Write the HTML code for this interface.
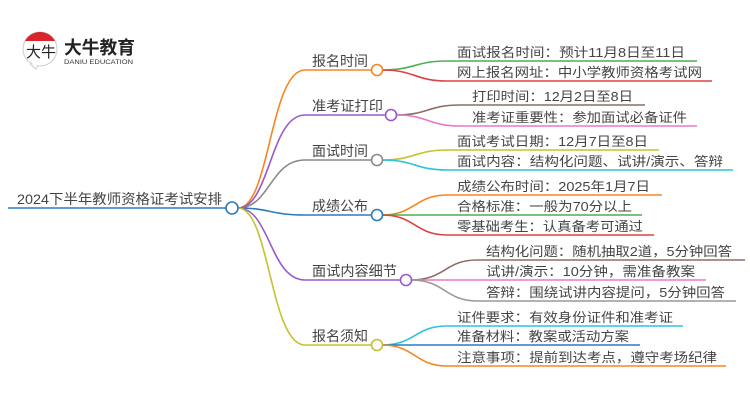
<!DOCTYPE html>
<html><head><meta charset="utf-8"><style>
html,body{margin:0;padding:0;background:#fff;}
svg{display:block;}
text{font-family:"Liberation Sans","Noto Sans CJK SC",sans-serif;fill:#444;}
</style></head><body>
<svg width="750" height="410" viewBox="0 0 750 410" xmlns="http://www.w3.org/2000/svg">
<!-- logo -->
<circle cx="40" cy="49" r="17" fill="#fff" stroke="#ccc" stroke-width="1"/>
<path d="M25 41 A17 17 0 0 1 55 41 Z" fill="#d9262c"/>
<path d="M30 64 L36 69 L38 65" fill="#fff" stroke="#ccc" stroke-width="1"/>
<text x="26" y="57" font-size="15" style="fill:#222">大牛</text>
<text x="64" y="54" font-size="18" font-weight="bold" style="fill:#222" textLength="71" lengthAdjust="spacingAndGlyphs">大牛教育</text>
<text x="64" y="64" font-size="6.5" style="fill:#333" textLength="69" lengthAdjust="spacingAndGlyphs">DANIU EDUCATION</text>

<g fill="none" stroke-width="1.6">
<path d="M8 208 H226" stroke="#2b7bbd"/>
<path d="M238 208 C270 208,270 70,305 70 H372" stroke="#f7851e"/>
<path d="M238 208 C270 208,270 115,305 115 H386" stroke="#9b59c9"/>
<path d="M238 208 C270 208,270 160,305 160 H372" stroke="#888"/>
<path d="M238 208 C270 208,270 215,305 215 H372" stroke="#2b7bbd"/>
<path d="M238 208 C270 208,270 280,305 280 H401" stroke="#9b59c9"/>
<path d="M238 208 C270 208,270 345,305 345 H372" stroke="#c8c030"/>
<path d="M382 70 C415 70,415 61,447 61 H697" stroke="#4caf50"/>
<path d="M382 70 C415 70,415 81,447 81 H712" stroke="#e04040"/>
<path d="M396 115 C428 115,428 105,460 105 H645" stroke="#8d6e63"/>
<path d="M396 115 C428 115,428 126,460 126 H697" stroke="#e879c9"/>
<path d="M382 160 C415 160,415 150,447 150 H659" stroke="#c8c030"/>
<path d="M382 160 C415 160,415 170,447 170 H733" stroke="#2bc4d8"/>
<path d="M382 215 C415 215,415 195,447 195 H662" stroke="#f7851e"/>
<path d="M382 215 H642" stroke="#4caf50"/>
<path d="M382 215 C415 215,415 235,447 235 H654" stroke="#e04040"/>
<path d="M411 280 C445 280,445 260,477 260 H745" stroke="#8d6e63"/>
<path d="M411 280 H706" stroke="#e879c9"/>
<path d="M411 280 C445 280,445 301,477 301 H736" stroke="#999"/>
<path d="M382 345 C415 345,415 326,447 326 H683" stroke="#2bc4d8"/>
<path d="M382 345 H640" stroke="#2b7bbd"/>
<path d="M382 345 C415 345,415 366,447 366 H726" stroke="#f7851e"/>
</g>
<g fill="#fff" stroke-width="1.6">
<circle cx="232" cy="208" r="6" stroke="#2b7bbd"/>
<circle cx="377" cy="70" r="5.5" stroke="#f7851e"/>
<circle cx="391" cy="115" r="5.5" stroke="#9b59c9"/>
<circle cx="377" cy="160" r="5.5" stroke="#888"/>
<circle cx="377" cy="215" r="5.5" stroke="#2b7bbd"/>
<circle cx="406" cy="280" r="5.5" stroke="#9b59c9"/>
<circle cx="377" cy="345" r="5.5" stroke="#c8c030"/>
</g>
<g lengthAdjust="spacingAndGlyphs">
<text x="17" y="204" font-size="14" textLength="205" lengthAdjust="spacingAndGlyphs">2024下半年教师资格证考试安排</text>
<text x="312" y="66" font-size="14" textLength="56" lengthAdjust="spacingAndGlyphs">报名时间</text>
<text x="312" y="111" font-size="14" textLength="71" lengthAdjust="spacingAndGlyphs">准考证打印</text>
<text x="312" y="156" font-size="14" textLength="56" lengthAdjust="spacingAndGlyphs">面试时间</text>
<text x="312" y="211" font-size="14" textLength="56" lengthAdjust="spacingAndGlyphs">成绩公布</text>
<text x="312" y="276" font-size="14" textLength="85" lengthAdjust="spacingAndGlyphs">面试内容细节</text>
<text x="312" y="341" font-size="14" textLength="56" lengthAdjust="spacingAndGlyphs">报名须知</text>
</g>
<g font-size="13">
<text x="457" y="57" textLength="228" lengthAdjust="spacingAndGlyphs">面试报名时间：预计11月8日至11日</text>
<text x="457" y="77" textLength="245" lengthAdjust="spacingAndGlyphs">网上报名网址：中小学教师资格考试网</text>
<text x="472" y="101" textLength="161" lengthAdjust="spacingAndGlyphs">打印时间：12月2日至8日</text>
<text x="472" y="122" textLength="215" lengthAdjust="spacingAndGlyphs">准考证重要性：参加面试必备证件</text>
<text x="457" y="146" textLength="191" lengthAdjust="spacingAndGlyphs">面试考试日期：12月7日至8日</text>
<text x="457" y="166" textLength="266" lengthAdjust="spacingAndGlyphs">面试内容：结构化问题、试讲/演示、答辩</text>
<text x="457" y="191" textLength="193" lengthAdjust="spacingAndGlyphs">成绩公布时间：2025年1月7日</text>
<text x="457" y="211" textLength="175" lengthAdjust="spacingAndGlyphs">合格标准：一般为70分以上</text>
<text x="457" y="231" textLength="186" lengthAdjust="spacingAndGlyphs">零基础考生：认真备考可通过</text>
<text x="486" y="256" textLength="246" lengthAdjust="spacingAndGlyphs">结构化问题：随机抽取2道，5分钟回答</text>
<text x="486" y="276" textLength="209" lengthAdjust="spacingAndGlyphs">试讲/演示：10分钟，需准备教案</text>
<text x="486" y="297" textLength="239" lengthAdjust="spacingAndGlyphs">答辩：围绕试讲内容提问，5分钟回答</text>
<text x="457" y="322" textLength="216" lengthAdjust="spacingAndGlyphs">证件要求：有效身份证件和准考证</text>
<text x="457" y="341" textLength="172" lengthAdjust="spacingAndGlyphs">准备材料：教案或活动方案</text>
<text x="457" y="362" textLength="260" lengthAdjust="spacingAndGlyphs">注意事项：提前到达考点，遵守考场纪律</text>
</g>
</svg>
</body></html>
